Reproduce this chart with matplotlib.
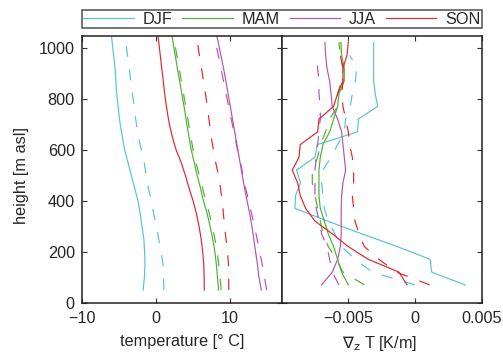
import numpy as np
import matplotlib
matplotlib.use("Agg")
import matplotlib.pyplot as plt
from matplotlib.lines import Line2D

plt.rcParams['font.family'] = ['Liberation Sans', 'DejaVu Sans']
plt.rcParams['font.size'] = 12
plt.rcParams['lines.scale_dashes'] = False
plt.rcParams['axes.unicode_minus'] = True

nan = np.nan

# ---------------- data ----------------
seasons = ["DJF", "MAM", "JJA", "SON"]
colors = ["#55c3d5", "#4cb133", "#b452b4", "#e5232a"]

# left panel: temperature profiles
h_T = [50, 100, 150, 200, 250, 300, 350, 400, 450, 500, 550,
       600, 650, 700, 750, 800, 850, 900, 950, 1000, 1050]
djf_T = [-1.70, -1.52, -1.45, -1.50, -1.60, -1.85, -2.10, -2.40, -2.85, -3.30, -3.75,
         -4.20, -4.50, -4.80, -5.00, -5.20, -5.35, -5.45, -5.60, -5.80, -6.00]
djf_T_d = [1.10, 1.05, 0.98, 0.72, 0.40, 0.12, -0.28, -0.60, -1.00, -1.30, -1.55,
           -1.95, -2.35, -2.60, -2.85, -3.05, -3.30, -3.50, -3.70, -3.95, -4.20]
mam_T = [8.50, 8.35, 8.20, 8.00, 7.70, 7.35, 6.95, 6.45, 6.05, 5.60, 5.20,
         4.80, 4.50, 4.20, 3.95, 3.65, 3.35, 3.05, 2.75, 2.45, 2.20]
mam_T_d = [8.85, 8.70, 8.52, 8.30, 8.00, 7.65, 7.25, 6.75, 6.33, 5.88, 5.45,
           5.05, 4.75, 4.45, 4.18, 3.88, 3.58, 3.28, 2.98, 2.68, 2.43]
jja_T = [14.27, 13.95, 13.75, 13.50, 13.25, 13.00, 12.70, 12.35, 12.00, 11.70, 11.40,
         11.10, 10.80, 10.50, 10.20, 9.90, 9.60, 9.30, 8.95, 8.60, 8.25]
jja_T_d = [15.00, 14.70, 14.40, 14.05, 13.70, 13.35, 12.95, 12.55, 12.15, 11.80, 11.45,
           11.05, 10.70, 10.35, 10.00, 9.65, 9.30, 8.95, 8.60, 8.25, 7.90]
son_T = [6.57, 6.55, 6.50, 6.35, 6.15, 5.85, 5.50, 5.05, 4.50, 4.00, 3.45,
         2.75, 2.25, 1.85, 1.55, 1.30, 1.10, 0.90, 0.70, 0.50, 0.30]
son_T_d = [9.88, 9.86, 9.84, 9.70, 9.50, 9.30, 9.15, 8.98, 8.75, 8.50, 8.10,
           7.80, 7.50, 7.28, 7.07, 6.83, 6.55, 6.30, 6.00, 5.75, 5.50]

# right panel: vertical temperature gradient
h_G = [70, 120, 170, 220, 270, 320, 370, 420, 470, 520,
       570, 620, 670, 720, 770, 820, 870, 920, 970, 1020]
djf_G = [0.00375, 0.00125, 0.00113, -0.00133, -0.00398, -0.00655, -0.0090, -0.00895, -0.00858, -0.00888,
         -0.0075, -0.00733, -0.0043, -0.00425, -0.0028, -0.00298, -0.0031, -0.0031, -0.0031, -0.0031]
djf_G_d = [0.0000, -0.0032, -0.0045, -0.0055, -0.0060, -0.0065, -0.0068, -0.0069, -0.0070, -0.0069,
           -0.0063, -0.0058, -0.0053, -0.0052, -0.00485, -0.0047, -0.00448, -0.00435, -0.0049, nan]
mam_G = [-0.0050, -0.0055, -0.0058, -0.0061, -0.0065, -0.0068, -0.0071, -0.0072, -0.0072, -0.0072,
         -0.0071, -0.0069, -0.0064, -0.0061, -0.0058, -0.0057, -0.0053, -0.0053, -0.0055, -0.00555]
mam_G_d = [-0.0038, -0.0054, -0.0059, -0.0065, -0.0069, -0.0071, -0.0073, -0.0075, -0.0077, -0.0077,
           -0.0073, -0.0071, -0.0067, -0.0064, -0.0058, -0.0058, -0.0055, -0.0054, -0.0056, -0.0057]
jja_G = [-0.0070, -0.0062, -0.0058, -0.0056, -0.00553, -0.00553, -0.00553, -0.0055, -0.0054, -0.0052,
         -0.0053, -0.0054, -0.0055, -0.0058, -0.0062, -0.0063, -0.0064, -0.0066, -0.0067, -0.00675]
jja_G_d = [-0.0057, -0.0062, -0.0064, -0.0066, -0.0070, -0.0072, -0.0074, -0.0075, -0.0075, -0.0075,
           -0.0074, -0.0073, -0.0072, -0.0071, -0.0071, -0.0072, -0.0072, -0.0073, -0.0074, nan]
son_G = [-0.0006, -0.0012, -0.0035, -0.0050, -0.0062, -0.0075, -0.0082, -0.0086, -0.0088, -0.0092,
         -0.0087, -0.0086, -0.0073, -0.0072, -0.0061, -0.0058, -0.0054, -0.0054, -0.0051, -0.0050]
son_G_d = [0.0011, -0.0014, -0.0027, -0.0038, -0.0042, -0.0045, -0.0046, -0.0047, -0.0046, -0.0046,
           -0.0047, -0.0049, -0.0050, -0.0052, -0.0054, -0.0055, -0.0054, -0.0054, -0.0056, -0.0056]

T_solid = [djf_T, mam_T, jja_T, son_T]
T_dash = [djf_T_d, mam_T_d, jja_T_d, son_T_d]
G_solid = [djf_G, mam_G, jja_G, son_G]
G_dash = [djf_G_d, mam_G_d, jja_G_d, son_G_d]

T_ticks = [-10, 0, 10]
T_ticklabels = ["\u221210", "0", "10"]
G_ticks = [-0.005, 0, 0.005]
G_ticklabels = ["\u22120.005", "0", "0.005"]
h_ticks = [0, 200, 400, 600, 800, 1000]

# ---------------- figure ----------------
W, H = 503, 354
fig = plt.figure(figsize=(W / 100, H / 100), dpi=100)

def fx(px):
    return px / W

def fy(py):
    return 1 - py / H

x0, xm, x1 = 81.7, 282.0, 481.7
ytop, ybot = 35.7, 302.7
ax1 = fig.add_axes([fx(x0), fy(ybot), fx(xm - x0), fy(ytop) - fy(ybot)])
ax2 = fig.add_axes([fx(xm), fy(ybot), fx(x1 - xm), fy(ytop) - fy(ybot)])

lw = 0.85
dash = (0, (8.0, 9.0))
for c, ys, yd in zip(colors, T_solid, T_dash):
    ax1.plot(ys, h_T, color=c, lw=lw)
    ax1.plot(yd, h_T, color=c, lw=lw, linestyle=dash)
for c, ys, yd in zip(colors, G_solid, G_dash):
    ax2.plot(ys, h_G, color=c, lw=lw)
    ax2.plot(yd, h_G, color=c, lw=lw, linestyle=dash)

txtc = "#262626"
for ax in (ax1, ax2):
    ax.set_ylim(0, 1047)
    ax.set_yticks(h_ticks)
    ax.tick_params(direction='in', top=True, right=True, length=3.5, width=0.8,
                   colors="#333333", labelcolor=txtc, labelsize=11.7)
    ax.tick_params(axis='x', pad=6)
    ax.tick_params(axis='y', pad=5)
    for s in ax.spines.values():
        s.set_linewidth(1.1)
        s.set_color("#222222")

ax1.set_xlim(-10, 17.07)
ax1.set_xticks(T_ticks)
ax1.set_xticklabels(T_ticklabels)
ax1.set_ylabel("height [m asl]", color=txtc, fontsize=11.7)
ax1.yaxis.set_label_coords(-0.265, 0.478)
ax1.set_xlabel("temperature [\u00b0 C]", color=txtc, fontsize=11.7)
ax1.xaxis.set_label_coords(0.5, -0.118)

ax2.set_xlim(-0.00997, 0.005)
ax2.set_xticks(G_ticks)
ax2.set_xticklabels(G_ticklabels)
ax2.set_yticklabels([])
ax2.set_xlabel(r"$\nabla_{\mathrm{z}}$ T [K/m]", color=txtc, fontsize=11.7)
ax2.xaxis.set_label_coords(0.49, -0.118)

# legend
handles = [Line2D([], [], color=c, lw=lw) for c in colors]
leg = fig.legend(handles, seasons, loc='lower left',
                 bbox_to_anchor=(fx(82), fy(28), fx(482) - fx(82), fy(10) - fy(28)),
                 mode='expand', ncol=4, frameon=True, fancybox=False,
                 handlelength=3.1, handletextpad=0.55, columnspacing=0.9,
                 borderpad=0.08, borderaxespad=0, fontsize=11.7)
leg.get_frame().set_edgecolor("#222222")
leg.get_frame().set_linewidth(1.1)
for t in leg.get_texts():
    t.set_color(txtc)

fig.savefig("out.png", dpi=100)
